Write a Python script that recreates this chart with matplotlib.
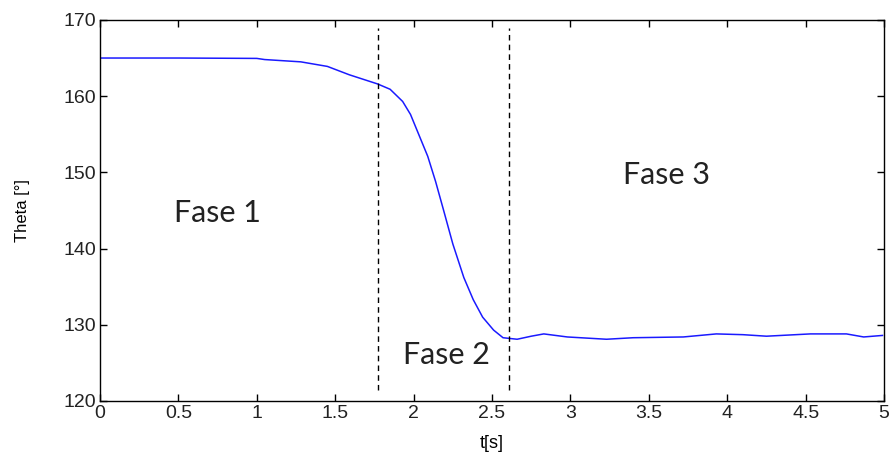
import matplotlib
matplotlib.use("Agg")
import matplotlib.pyplot as plt

# angle vs time
t = [0.0, 0.5, 1.0, 1.05, 1.28, 1.45, 1.59, 1.77, 1.85, 1.93, 1.98, 2.02,
     2.09, 2.14, 2.19, 2.25, 2.32, 2.38, 2.44, 2.51, 2.57, 2.66, 2.75, 2.83,
     2.98, 3.23, 3.40, 3.72, 3.93, 4.10, 4.25, 4.53, 4.76, 4.87, 4.99]
theta = [165.0, 165.0, 164.95, 164.8, 164.5, 163.9, 162.8, 161.6, 160.9,
         159.3, 157.6, 155.6, 152.1, 148.8, 145.1, 140.6, 136.2, 133.3, 131.0,
         129.3, 128.3, 128.1, 128.5, 128.8, 128.4, 128.1, 128.3, 128.4, 128.8,
         128.7, 128.5, 128.8, 128.8, 128.4, 128.6]

phase_limits = [1.77, 2.61]
phase_labels = ["Fase 1", "Fase 2", "Fase 3"]
label_pos = [(0.75, 144.6), (2.21, 126.0), (3.61, 149.7)]

plt.rcParams["font.family"] = "Liberation Sans"

fig = plt.figure(figsize=(8.93, 4.58), dpi=100)
ax = fig.add_axes([0.112, 0.1245, 0.878, 0.832])

ax.plot(t, theta, color="#1a1aff", linewidth=1.1)

for x in phase_limits:
    ax.plot([x, x], [121.5, 169], color="black", linestyle=(0, (4, 3)), linewidth=1)

for label, (x, y) in zip(phase_labels, label_pos):
    ax.text(x, y, label, fontsize=22, family="Lato", color="#222222",
            ha="center", va="center")

ax.set_xlim(0, 5)
ax.set_ylim(120, 170)
ax.set_xticks([0, 0.5, 1, 1.5, 2, 2.5, 3, 3.5, 4, 4.5, 5])
ax.set_xticklabels(["0", "0.5", "1", "1.5", "2", "2.5", "3", "3.5", "4", "4.5", "5"])
ax.set_yticks([120, 130, 140, 150, 160, 170])
ax.tick_params(direction="in", length=5, width=1, top=True, right=True,
               labelsize=14, labelcolor="#222222", pad=3)
for s in ax.spines.values():
    s.set_linewidth(1)

ax.set_xlabel("t[s]", fontsize=13, labelpad=9)
ax.set_ylabel("Theta [°]", fontsize=12, labelpad=24)

fig.savefig("out.png", dpi=100)
